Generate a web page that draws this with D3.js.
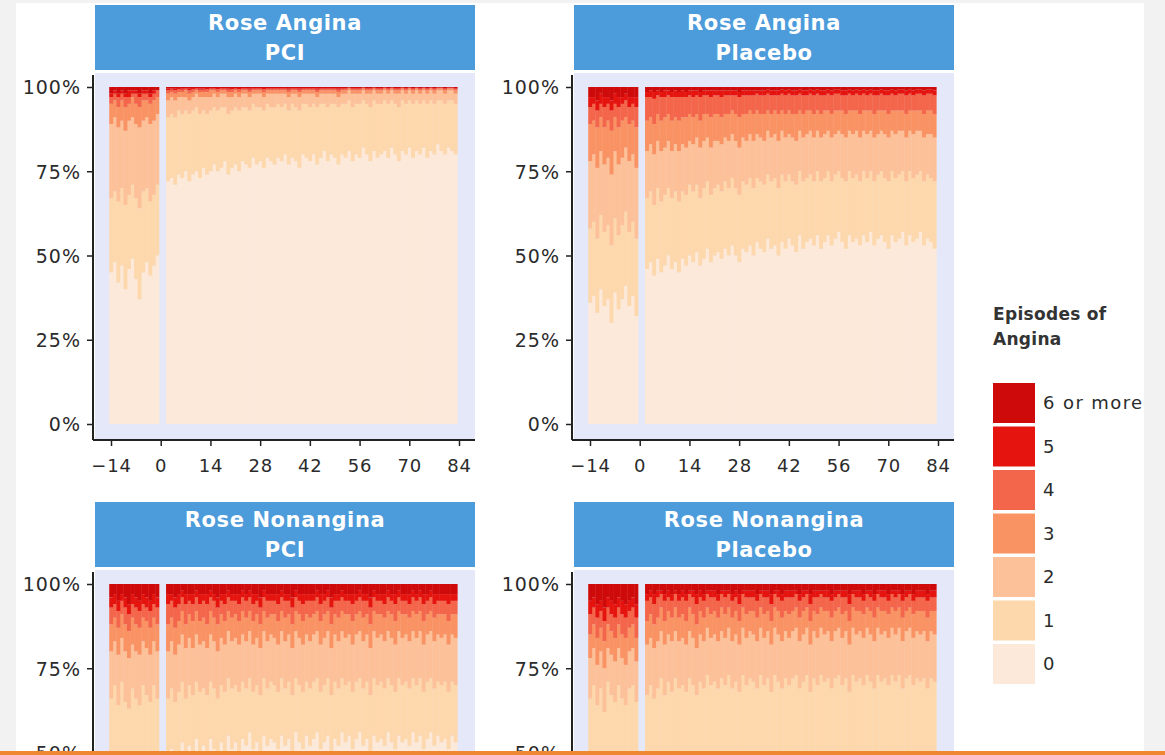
<!DOCTYPE html>
<html>
<head>
<meta charset="utf-8">
<script src="https://cdn.jsdelivr.net/npm/d3@7"></script>
<style>
  body { margin: 0; background: #f2f2f2; }
  svg { display: block; font-family: "DejaVu Sans", "Open Sans", sans-serif; }
</style>
</head>
<body>
<div id="chart"></div>
<script>
// Days shown: 14 days before randomisation, then follow-up
var preDays = d3.range(-14, 0);
var postDays = d3.range(2, 84);
var days = preDays.concat(postDays);

// Episode categories (bottom to top) and legend labels
var categories = ["0", "1", "2", "3", "4", "5", "6 or more"];
var catColors = ["#fde9d9", "#fed8ad", "#fdc19a", "#fa9364", "#f4664b", "#e5140e", "#cf0a0a"];
var xTicks = [-14, 0, 14, 28, 42, 56, 70, 84];
var yTicks = [0, 0.25, 0.5, 0.75, 1];

// Panel titles
var panelTitles = [["Rose Angina", "PCI"], ["Rose Angina", "Placebo"],
                   ["Rose Nonangina", "PCI"], ["Rose Nonangina", "Placebo"]];

// % of patients with at least k episodes per day (14 pre days + 82 follow-up days)
// Rose Angina, PCI
var apGe1 = [55,52,58,53,60,54,51,57,63,55,52,56,53,50,
  28,27,29,26,27,25,28,26,25,27, 24,26,25,23,25,24,22,26,24,23, 25,22,23,24,21,23,22,24,21,22,
  23,21,22,20,23,21,22,24,20,21, 22,20,23,21,19,22,20,21,23,20, 21,19,22,20,21,18,20,22,19,21,
  20,19,21,18,20,22,19,20,18,21, 19,20,18,21,19,20,17,19,20,18, 19,20];
var apGe2 = [33,31,34,30,35,32,29,33,36,31,30,34,32,29,
  9,8,9,7,8,7,8,7,6,8, 7,8,7,6,7,6,6,8,7,6, 7,6,6,7,5,6,6,7,5,6,
  6,5,6,5,7,5,6,7,5,5, 6,5,6,5,5,6,5,5,6,5, 5,4,6,5,5,4,5,6,4,5,
  5,4,5,4,5,6,4,5,4,5, 4,5,4,5,4,5,4,4,5,4, 4,5];
var apGe3 = [11,9,12,10,13,10,9,11,12,10,9,11,10,8,
  4,3,4,3,3,3,4,3,2,3, 3,3,3,2,3,2,2,3,3,2, 3,2,2,3,2,2,2,3,2,2,
  2,2,2,2,3,2,2,3,2,2, 2,2,3,2,2,2,2,2,3,2, 2,1,2,2,2,1,2,2,1,2,
  2,1,2,1,2,2,1,2,1,2, 1,2,1,2,1,2,1,1,2,1, 1,2];
var apGe4 = [5,4,6,4,6,5,3,5,6,4,4,5,4,3,
  2,1.5,2,1.5,1.5,1,2,1.5,1,1.5, 1.5,1.5,1,1,1.5,1,1,1.5,1.5,1, 1.5,1,1,1.5,1,1,1,1.5,1,1,
  1,1,1,1,1.5,1,1,1.5,1,1, 1,1,1.5,1,1,1,1,1,1.5,1, 1,0.5,1,1,1,0.5,1,1,0.5,1,
  1,0.5,1,0.5,1,1,0.5,1,0.5,1, 0.5,1,0.5,1,0.5,1,0.5,0.5,1,0.5, 0.5,1];
var apGe5 = [3,2,3,2,3,3,2,2,3,2,2,3,2,1,
  1,0.8,1,0.7,0.8,0.5,1,0.7,0.5,0.8, 0.8,0.7,0.5,0.5,0.7,0.5,0.5,0.8,0.7,0.5, 0.7,0.5,0.5,0.8,0.5,0.5,0.5,0.7,0.5,0.5,
  0.5,0.5,0.5,0.5,0.8,0.5,0.5,0.8,0.5,0.5, 0.5,0.5,0.8,0.5,0.5,0.5,0.5,0.5,0.8,0.5, 0.5,0.3,0.5,0.5,0.5,0.3,0.5,0.5,0.3,0.5,
  0.5,0.3,0.5,0.3,0.5,0.5,0.3,0.5,0.3,0.5, 0.3,0.5,0.3,0.5,0.3,0.5,0.3,0.3,0.5,0.3, 0.3,0.5];
var apGe6 = [2,1,2,1,2,1,1,1,2,1,1,2,1,1,
  0.5,0.4,0.5,0.3,0.4,0.3,0.5,0.3,0.3,0.4, 0.4,0.3,0.3,0.3,0.3,0.3,0.3,0.4,0.3,0.3, 0.3,0.3,0.3,0.4,0.3,0.3,0.3,0.3,0.3,0.3,
  0.3,0.3,0.3,0.3,0.4,0.3,0.3,0.4,0.3,0.3, 0.3,0.3,0.4,0.3,0.3,0.3,0.3,0.3,0.4,0.3, 0.3,0.2,0.3,0.3,0.3,0.2,0.3,0.3,0.2,0.3,
  0.3,0.2,0.3,0.2,0.3,0.3,0.2,0.3,0.2,0.3, 0.2,0.3,0.2,0.3,0.2,0.3,0.2,0.2,0.3,0.2, 0.2,0.3];

// Rose Angina, Placebo
var alGe1 = [64,62,67,60,65,63,70,61,66,63,59,65,62,68,
  54,52,56,51,55,53,50,54,52,55, 51,53,50,52,49,53,51,48,52,50, 49,51,48,50,47,50,52,48,49,47,
  50,46,48,49,45,48,47,50,46,48, 45,47,49,44,48,46,45,47,44,48, 46,44,47,45,43,46,48,44,46,45,
  47,44,46,43,47,45,44,46,48,44, 46,45,43,47,44,46,45,43,47,45, 46,48];
var alGe2 = [42,40,45,38,43,41,47,39,44,41,37,43,40,45,
  33,31,35,30,34,32,30,33,31,34, 31,32,29,31,29,33,30,28,32,30, 29,31,28,30,27,30,32,28,29,27,
  30,27,28,29,26,28,27,30,26,28, 26,28,29,25,28,27,26,28,25,28, 27,25,28,26,25,27,28,25,27,26,
  28,25,27,25,28,26,25,27,28,25, 27,26,25,28,25,27,26,25,28,26, 27,28];
var alGe3 = [22,20,24,19,23,21,26,19,23,21,18,22,20,24,
  19,17,20,16,19,18,16,19,17,19, 17,18,16,17,15,18,16,15,18,16, 16,17,15,16,14,16,18,15,16,14,
  16,14,15,16,13,15,14,16,13,15, 14,15,16,13,15,14,13,15,13,15, 14,13,15,14,13,14,15,13,14,13,
  15,13,14,13,15,14,13,14,15,13, 14,13,13,15,13,14,13,13,15,14, 14,15];
var alGe4 = [11,10,12,9,12,10,13,9,12,10,9,11,10,12,
  10,9,11,8,10,9,8,10,9,10, 9,9,8,9,8,10,8,8,9,8, 8,9,8,8,7,8,9,8,8,7,
  8,7,8,8,7,8,7,8,7,8, 7,8,8,7,8,7,7,8,7,8, 7,7,8,7,7,7,8,7,7,7,
  8,7,7,7,8,7,7,7,8,7, 7,7,7,8,7,7,7,7,8,7, 7,8];
var alGe5 = [6,5,7,5,6,5,7,5,6,5,4,6,5,6,
  3,3,3.5,2.5,3,3,2.5,3,3,3, 3,3,2.5,3,2.5,3,2.5,2.5,3,2.5, 2.5,3,2.5,2.5,2.5,2.5,3,2.5,2.5,2.5,
  2.5,2,2.5,2.5,2,2.5,2.5,2.5,2,2.5, 2,2.5,2.5,2,2.5,2.5,2,2.5,2,2.5, 2.5,2,2.5,2,2,2.5,2.5,2,2.5,2,
  2.5,2,2.5,2,2.5,2.5,2,2.5,2.5,2, 2.5,2,2,2.5,2,2.5,2,2,2.5,2, 2,2.5];
var alGe6 = [3,3,4,2,3,3,4,2,3,3,2,3,3,3,
  1.5,1,1.5,1,1.5,1,1,1.5,1,1.5, 1,1.5,1,1,1,1.5,1,1,1,1, 1,1,1,1,1,1,1.5,1,1,1,
  1,1,1,1,0.8,1,1,1,0.8,1, 0.8,1,1,0.8,1,1,0.8,1,0.8,1, 1,0.8,1,0.8,0.8,1,1,0.8,1,0.8,
  1,0.8,1,0.8,1,1,0.8,1,1,0.8, 1,0.8,0.8,1,0.8,1,0.8,0.8,1,0.8, 0.8,1];

// Rose Nonangina, PCI
var npGe1 = [56,52,58,50,57,60,53,56,58,51,55,57,52,56,
  52,49,54,50,47,53,48,51,46,50, 48,51,46,49,52,47,50,45,49,47, 50,46,48,44,49,47,51,45,48,46,
  47,49,45,48,46,50,44,47,49,45, 48,46,44,49,47,45,50,46,48,44, 47,45,49,46,44,48,46,50,45,47,
  46,48,44,47,49,45,47,46,48,44, 47,45,49,46,44,48,45,47,46,49, 45,47];
var npGe2 = [34,30,36,29,35,37,31,34,36,30,33,35,30,34,
  34,31,35,32,29,34,30,33,29,32, 31,33,29,31,34,30,32,28,31,30, 32,29,31,28,32,30,33,28,31,29,
  30,32,28,31,29,33,28,30,32,29, 31,29,28,32,30,28,33,29,31,28, 30,29,32,29,28,31,29,33,28,30,
  29,31,28,30,32,28,30,29,31,28, 30,28,32,29,28,31,29,30,29,32, 29,30];
var npGe3 = [20,17,21,16,20,22,18,20,21,17,19,21,17,20,
  20,17,21,18,15,19,16,19,15,18, 17,19,15,17,20,16,18,14,17,16, 18,15,17,14,18,16,19,14,17,15,
  16,18,14,17,15,19,14,16,18,15, 17,15,14,18,16,14,19,15,17,14, 16,15,18,15,14,17,15,19,14,16,
  15,17,14,16,18,14,16,15,17,14, 16,14,18,15,14,17,15,16,15,18, 15,16];
var npGe4 = [12,10,13,9,12,14,10,12,13,10,11,13,10,12,
  12,10,13,11,8,12,9,11,8,11, 10,12,8,10,12,9,11,8,10,9, 11,8,10,8,11,9,12,8,10,9,
  9,11,8,10,9,12,8,9,11,9, 10,9,8,11,9,8,12,9,10,8, 9,9,11,9,8,10,9,12,8,9,
  9,10,8,9,11,8,9,9,10,8, 9,8,11,9,8,10,9,9,9,11, 9,9];
var npGe5 = [7,6,8,5,7,9,6,7,8,6,7,8,6,7,
  6,5,7,6,4,6,5,6,4,6, 5,6,4,5,7,5,6,4,5,5, 6,4,5,4,6,5,7,4,5,5,
  5,6,4,5,5,7,4,5,6,5, 5,5,4,6,5,4,7,5,5,4, 5,5,6,5,4,5,5,7,4,5,
  5,6,4,5,6,4,5,5,6,4, 5,4,6,5,4,6,5,5,5,6, 5,5];
var npGe6 = [4,3,5,3,4,6,3,4,5,3,4,5,3,4,
  3,3,4,3,2,3,3,3,2,3, 3,3,2,3,4,3,3,2,3,3, 3,2,3,2,3,3,4,2,3,3,
  3,3,2,3,3,4,2,3,3,3, 3,3,2,3,3,2,4,3,3,2, 3,3,3,3,2,3,3,4,2,3,
  3,3,2,3,3,2,3,3,3,2, 3,2,3,3,2,3,3,3,3,3, 3,3];

// Rose Nonangina, Placebo
var nlGe1 = [58,54,60,55,62,53,57,59,54,58,60,55,54,59,
  60,57,62,58,55,61,57,59,56,60, 58,61,56,59,62,57,60,55,58,57, 59,56,58,54,60,57,61,55,58,56,
  57,59,55,58,56,61,54,57,59,56, 58,56,54,59,57,55,60,56,58,55, 57,55,59,56,54,58,56,60,55,57,
  56,58,54,57,59,55,57,56,58,54, 57,55,59,56,54,58,55,57,56,59, 56,58];
var nlGe2 = [34,30,36,31,38,29,33,35,30,34,36,31,30,35,
  33,30,34,31,28,33,29,32,28,31, 30,32,28,30,33,29,31,27,30,29, 31,28,30,27,31,29,32,27,30,28,
  29,31,27,30,28,32,27,29,31,28, 30,28,27,31,29,27,32,28,30,27, 29,28,31,28,27,30,28,32,27,29,
  28,30,27,29,31,27,29,28,30,27, 29,27,31,28,27,30,28,29,28,31, 28,29];
var nlGe3 = [22,19,24,20,25,19,21,23,19,22,24,20,19,23,
  18,16,19,17,14,18,15,17,14,17, 16,18,14,16,19,15,17,13,16,15, 17,14,16,13,17,15,18,13,16,14,
  15,17,13,16,14,18,13,15,17,14, 16,14,13,17,15,13,18,14,16,13, 15,14,17,14,13,16,14,18,13,15,
  14,16,13,15,17,13,15,14,16,13, 15,13,17,14,13,16,14,15,14,17, 14,15];
var nlGe4 = [15,12,16,13,17,12,14,16,12,15,16,13,12,16,
  11,9,12,10,7,11,8,10,7,10, 9,11,7,9,12,8,10,7,9,8, 10,7,9,7,10,8,11,7,9,8,
  8,10,7,9,8,11,7,8,10,8, 9,8,7,10,8,7,11,8,9,7, 8,8,10,8,7,9,8,11,7,8,
  8,9,7,8,10,7,8,8,9,7, 8,7,10,8,7,9,8,8,8,10, 8,8];
var nlGe5 = [9,7,10,8,11,7,9,10,7,9,10,8,7,10,
  5,4,6,4,3,5,4,5,3,5, 4,5,3,4,6,4,5,3,4,4, 5,3,4,3,5,4,6,3,4,4,
  4,5,3,4,4,6,3,4,5,4, 4,4,3,5,4,3,6,4,4,3, 4,4,5,4,3,4,4,6,3,4,
  4,5,3,4,5,3,4,4,5,3, 4,3,5,4,3,5,4,4,4,5, 4,4];
var nlGe6 = [5,4,6,5,7,4,5,6,4,5,6,5,4,6,
  3,2,3,2,2,3,2,3,2,3, 2,3,2,2,3,2,3,2,2,2, 3,2,2,2,3,2,3,2,2,2,
  2,3,2,2,2,3,2,2,3,2, 2,2,2,3,2,2,3,2,2,2, 2,2,3,2,2,2,2,3,2,2,
  2,3,2,2,3,2,2,2,3,2, 2,2,3,2,2,3,2,2,2,3, 2,2];

var panelSeries = [
  [apGe1, apGe2, apGe3, apGe4, apGe5, apGe6],
  [alGe1, alGe2, alGe3, alGe4, alGe5, alGe6],
  [npGe1, npGe2, npGe3, npGe4, npGe5, npGe6],
  [nlGe1, nlGe2, nlGe3, nlGe4, nlGe5, nlGe6]
];

// Turn "at least k" series into per-category shares
function buildRows(ge) {
  return days.map(function(day, i) {
    var row = { day: day };
    var at = [100].concat(ge.map(function(s) { return s[i]; })).concat([0]);
    categories.forEach(function(c, k) {
      row[c] = (at[k] - at[k + 1]) / 100;
    });
    return row;
  });
}

var svgWidth = 1165;
var svgHeight = 755;

var svg = d3.select("#chart")
  .append("svg")
  .attr("width", svgWidth)
  .attr("height", svgHeight);

// page background: white sheet on grey
svg.append("rect").attr("width", svgWidth).attr("height", svgHeight).attr("fill", "#f2f2f2");
svg.append("rect").attr("x", 16).attr("y", 3).attr("width", 1128).attr("height", svgHeight).attr("fill", "#ffffff");

// panel geometry
var panelW = 380;
var stripTop = 5, stripH = 65;
var panelTop = 73, panelBottom = 440;
var colX = [95, 574];
var rowY = [0, 497];

var stack = d3.stack().keys(categories);

panelTitles.forEach(function(title, p) {
  var ox = colX[p % 2];
  var oy = rowY[Math.floor(p / 2)];
  var g = svg.append("g").attr("transform", "translate(" + ox + "," + oy + ")");

  var x = d3.scaleLinear().domain([-14, 84]).range([16, 364]);
  var y = d3.scaleLinear().domain([0, 1]).range([424, 87]);
  var bw = x(1) - x(0);

  // strip
  g.append("rect")
    .attr("x", 0).attr("y", stripTop)
    .attr("width", panelW).attr("height", stripH)
    .attr("fill", "#4c9bdb");
  g.selectAll(".strip-text")
    .data(title)
    .enter()
    .append("text")
    .attr("x", panelW / 2)
    .attr("y", function(d, i) { return 30 + i * 30; })
    .attr("text-anchor", "middle")
    .attr("fill", "#ffffff")
    .attr("font-size", "21px")
    .attr("font-weight", "bold")
    .attr("letter-spacing", "0.6px")
    .text(function(d) { return d; });

  // panel background
  g.append("rect")
    .attr("x", 0).attr("y", panelTop)
    .attr("width", panelW).attr("height", panelBottom - panelTop)
    .attr("fill", "#e4e8f8");

  // stacked bars
  var series = stack(buildRows(panelSeries[p]));
  g.selectAll(".layer")
    .data(series)
    .enter()
    .append("g")
    .attr("fill", function(d, i) { return catColors[i]; })
    .selectAll("rect")
    .data(function(d) { return d; })
    .enter()
    .append("rect")
    .attr("x", function(d) { return x(d.data.day) - bw / 2; })
    .attr("y", function(d) { return y(d[1]); })
    .attr("width", bw + 0.4)
    .attr("height", function(d) { return Math.max(0, y(d[0]) - y(d[1])); });

  // axes (the bottom row's x axis lies below the visible area)
  var bottomAxis = d3.axisBottom(x).tickValues(oy === 0 ? xTicks : []).tickSize(6);
  var leftAxis = d3.axisLeft(y).tickValues(yTicks).tickFormat(d3.format(".0%")).tickSize(6).tickPadding(6);

  var xAxis = g.append("g")
    .attr("transform", "translate(0," + panelBottom + ")")
    .call(bottomAxis);
  var yAxis = g.append("g")
    .attr("transform", "translate(-2,0)")
    .call(leftAxis);

  [xAxis, yAxis].forEach(function(ax) {
    ax.select(".domain").remove();
    ax.selectAll(".tick line").attr("stroke", "#222").attr("stroke-width", 1.5);
    ax.selectAll(".tick text")
      .attr("font-size", "18px")
      .attr("font-family", "DejaVu Sans, sans-serif")
      .attr("letter-spacing", "0.8px")
      .attr("fill", "#2b2b2b");
  });
  xAxis.selectAll(".tick text").attr("y", 32).attr("dy", 0);
  yAxis.selectAll(".tick text").attr("dy", "0.36em").attr("font-size", "19px").attr("letter-spacing", "1px");

  // axis lines
  g.append("line")
    .attr("x1", -2).attr("x2", -2)
    .attr("y1", panelTop + 2).attr("y2", panelBottom)
    .attr("stroke", "#222").attr("stroke-width", 2);
  g.append("line")
    .attr("x1", -2).attr("x2", panelW)
    .attr("y1", panelBottom).attr("y2", panelBottom)
    .attr("stroke", "#222").attr("stroke-width", 2);
});

// legend
var legend = svg.append("g").attr("transform", "translate(993,0)");
legend.selectAll(".legend-title")
  .data(["Episodes of", "Angina"])
  .enter()
  .append("text")
  .attr("x", 0)
  .attr("y", function(d, i) { return 320 + i * 25; })
  .attr("font-size", "17px")
  .attr("font-weight", "bold")
  .attr("letter-spacing", "0.3px")
  .attr("fill", "#333")
  .text(function(d) { return d; });

var legendItems = categories.slice().reverse();
var legendColors = catColors.slice().reverse();
var item = legend.selectAll(".legend-item")
  .data(legendItems)
  .enter()
  .append("g")
  .attr("transform", function(d, i) { return "translate(0," + (383 + i * 43.5) + ")"; });
item.append("rect")
  .attr("width", 42)
  .attr("height", 40)
  .attr("fill", function(d, i) { return legendColors[i]; });
item.append("text")
  .attr("x", 50)
  .attr("y", 20)
  .attr("dy", "0.36em")
  .attr("font-size", "18px")
  .attr("letter-spacing", "1.4px")
  .attr("fill", "#2b2b2b")
  .text(function(d) { return d; });

// orange rule at the bottom of the page
svg.append("rect").attr("x", 0).attr("y", 751).attr("width", svgWidth).attr("height", 4).attr("fill", "#ef8632");
</script>
</body>
</html>
